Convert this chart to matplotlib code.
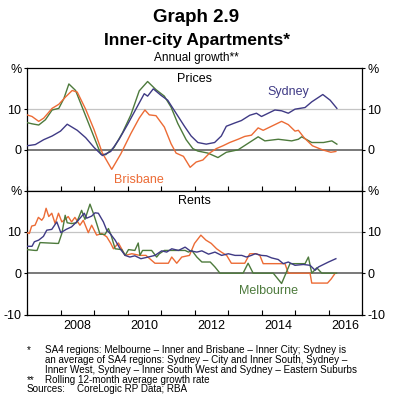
import matplotlib.pyplot as plt

plt.rcParams['font.family'] = ['Liberation Sans', 'DejaVu Sans']

# ---- data: annual growth, % ----
syd_price_t = [2007.0, 2007.25, 2007.5, 2007.75, 2008.0, 2008.2, 2008.5, 2008.75, 2009.0, 2009.25,
               2009.5, 2009.75, 2010.0, 2010.25, 2010.5, 2010.6, 2010.77, 2011.0, 2011.2, 2011.45,
               2011.7, 2011.9, 2012.1, 2012.35, 2012.6, 2012.8, 2012.95, 2013.2, 2013.4, 2013.65,
               2013.85, 2014.0, 2014.2, 2014.4, 2014.6, 2014.8, 2015.0, 2015.3, 2015.5, 2015.83,
               2016.05, 2016.25]
syd_price = [1.0, 1.3, 2.5, 3.4, 4.6, 6.3, 4.8, 3.0, 0.6, -1.4,
             -0.4, 2.6, 6.2, 10.0, 13.8, 13.2, 15.0, 13.4, 12.2, 9.0,
             5.8, 3.4, 1.8, 1.4, 1.8, 3.4, 5.8, 6.6, 7.2, 8.5,
             9.0, 8.2, 9.0, 9.8, 9.6, 9.0, 10.0, 10.4, 11.8, 13.6,
             12.2, 10.2]

mel_price_t = [2007.0, 2007.15, 2007.35, 2007.55, 2007.75, 2007.95, 2008.1, 2008.25, 2008.45, 2008.7,
               2008.95, 2009.2, 2009.35, 2009.6, 2009.85, 2010.1, 2010.35, 2010.6, 2010.85, 2011.1,
               2011.3, 2011.5, 2011.75, 2011.95, 2012.1, 2012.4, 2012.7, 2012.95, 2013.3, 2013.6,
               2013.9, 2014.1, 2014.5, 2014.9, 2015.1, 2015.2, 2015.5, 2015.85, 2016.1, 2016.25]
mel_price = [6.7, 6.4, 6.1, 7.4, 9.8, 10.2, 12.6, 16.2, 14.6, 9.4,
             4.2, -1.0, -1.2, 0.6, 4.2, 8.6, 14.5, 16.8, 14.8, 13.2,
             10.5, 6.5, 2.5, 0.3, -0.3, -0.8, -1.9, -0.6, 0.0, 1.6,
             3.2, 2.2, 2.6, 2.2, 2.6, 3.2, 1.8, 1.8, 2.2, 1.4]

bne_price_t = [2007.0, 2007.15, 2007.35, 2007.5, 2007.75, 2007.95, 2008.15, 2008.35, 2008.5, 2008.75,
               2009.0, 2009.25, 2009.53, 2009.8, 2010.1, 2010.35, 2010.52, 2010.65, 2010.85, 2011.1,
               2011.3, 2011.45, 2011.67, 2011.87, 2012.05, 2012.25, 2012.45, 2012.65, 2012.85, 2013.05,
               2013.3, 2013.5, 2013.7, 2013.9, 2014.05, 2014.3, 2014.6, 2014.8, 2015.0, 2015.1,
               2015.27, 2015.52, 2015.82, 2016.07, 2016.22]
bne_price = [8.6, 8.2, 7.0, 7.8, 10.2, 11.2, 13.0, 14.6, 14.2, 10.0,
             5.0, -0.8, -4.8, -1.0, 4.0, 7.8, 9.8, 8.6, 8.4, 5.6,
             1.5, -0.8, -1.6, -4.3, -3.0, -2.5, -0.8, 0.3, 1.0, 1.8,
             2.6, 3.3, 3.6, 5.4, 4.8, 5.8, 7.0, 6.2, 4.6, 4.8,
             3.0, 1.0, 0.0, -0.6, -0.4]

syd_rent_t = [2007.0, 2007.15, 2007.22, 2007.35, 2007.49, 2007.59, 2007.74, 2007.89, 2008.01, 2008.17,
              2008.33, 2008.53, 2008.71, 2008.78, 2008.93, 2009.03, 2009.13, 2009.28, 2009.38, 2009.48,
              2009.63, 2009.78, 2009.93, 2010.07, 2010.22, 2010.4, 2010.62, 2010.82, 2011.02, 2011.17,
              2011.32, 2011.52, 2011.72, 2011.87, 2012.07, 2012.22, 2012.42, 2012.61, 2012.81, 2013.01,
              2013.21, 2013.41, 2013.55, 2013.7, 2013.81, 2014.0, 2014.15, 2014.3, 2014.5, 2014.65,
              2014.8, 2015.0, 2015.25, 2015.45, 2015.6, 2015.7, 2015.85, 2016.0, 2016.22]
syd_rent = [6.5, 6.5, 7.6, 8.0, 8.9, 10.4, 10.6, 12.4, 9.8, 10.6,
            11.2, 12.8, 14.5, 13.3, 13.8, 14.6, 14.5, 12.4, 10.4, 9.6,
            8.0, 5.9, 4.3, 3.9, 4.2, 3.5, 3.9, 4.3, 5.4, 5.1,
            5.9, 5.5, 6.3, 5.4, 5.1, 5.4, 4.6, 5.1, 4.3, 4.7,
            4.3, 4.3, 3.9, 4.3, 4.7, 4.3, 4.2, 3.7, 3.3, 2.3,
            2.7, 1.9, 2.1, 1.9, 0.7, 1.5, 2.1, 2.7, 3.5]

mel_rent_t = [2007.0, 2007.24, 2007.3, 2007.39, 2007.88, 2007.94, 2008.04, 2008.14, 2008.2, 2008.33,
              2008.48, 2008.63, 2008.73, 2008.88, 2008.98, 2009.08, 2009.18, 2009.33, 2009.43, 2009.51,
              2009.63, 2009.83, 2009.93, 2010.03, 2010.22, 2010.32, 2010.37, 2010.45, 2010.72, 2010.87,
              2010.95, 2011.1, 2011.72, 2011.82, 2011.92, 2012.07, 2012.22, 2012.47, 2012.61, 2012.76,
              2013.45, 2013.6, 2013.75, 2014.35, 2014.6, 2014.85, 2015.3, 2015.4, 2015.5, 2015.65,
              2015.8, 2016.24]
mel_rent = [5.7, 5.5, 5.5, 7.4, 7.2, 7.2, 9.6, 14.0, 12.2, 12.0,
            12.2, 15.2, 13.0, 16.7, 14.5, 12.0, 9.4, 9.4, 10.8, 9.2,
            5.9, 5.7, 4.3, 5.7, 5.5, 7.3, 4.3, 5.5, 5.5, 3.9,
            4.7, 5.5, 5.5, 5.1, 5.5, 3.9, 2.7, 2.7, 1.5, 0.0,
            0.0, 2.4, 0.0, 0.0, -2.5, 2.3, 2.3, 3.9, 0.0, 1.3,
            0.0, 0.0]

bne_rent_t = [2007.0, 2007.07, 2007.14, 2007.24, 2007.34, 2007.44, 2007.5, 2007.57, 2007.65, 2007.74,
              2007.84, 2007.94, 2008.04, 2008.14, 2008.23, 2008.33, 2008.43, 2008.58, 2008.68, 2008.83,
              2008.93, 2009.08, 2009.23, 2009.38, 2009.5, 2009.58, 2009.73, 2009.93, 2010.13, 2010.37,
              2010.55, 2010.82, 2011.22, 2011.32, 2011.47, 2011.62, 2011.85, 2012.0, 2012.19, 2012.34,
              2012.5, 2012.66, 2012.8, 2012.96, 2013.1, 2013.5, 2013.65, 2013.85, 2013.95, 2014.05,
              2014.7, 2014.8, 2015.45, 2015.5, 2015.97, 2016.08, 2016.2]
bne_rent = [9.8, 9.6, 11.4, 11.6, 13.5, 12.8, 13.5, 15.7, 13.7, 14.5,
            12.0, 14.5, 12.4, 13.0, 13.7, 12.4, 13.5, 11.6, 12.8, 9.8,
            11.6, 9.2, 9.6, 8.8, 7.2, 5.9, 7.3, 4.3, 4.7, 4.3,
            4.3, 2.4, 2.4, 3.9, 2.4, 3.9, 4.3, 7.2, 9.2, 8.0,
            7.2, 5.9, 5.1, 4.3, 2.4, 2.4, 4.7, 4.7, 4.3, 2.3,
            2.3, 0.0, 0.0, -2.4, -2.4, -1.4, 0.0]

year_labels = ['2008', '2010', '2012', '2014', '2016']

C_SYD = '#3f3a85'
C_MEL = '#4d7a3c'
C_BNE = '#ec6b35'

W, H = 393, 416
fig = plt.figure(figsize=(W / 100, H / 100), dpi=100)

left, right = 27, 362
top_ax = fig.add_axes([left / W, 1 - 190.5 / H, (right - left) / W, 122 / H])
bot_ax = fig.add_axes([left / W, 1 - 314.5 / H, (right - left) / W, 124 / H])


def style_panel(ax, yticks, ylabels, title):
    ax.set_xlim(2007, 2017)
    ax.set_ylim(-10, 20)
    ax.axhline(10, color='#c4c4c4', lw=0.9, zorder=0)
    ax.axhline(0, color='#6e6e6e', lw=1.3, zorder=1)
    for s in ax.spines.values():
        s.set_color('black')
        s.set_linewidth(0.9)
    ax.set_yticks(yticks)
    ax.set_yticklabels(ylabels)
    ax.tick_params(axis='y', length=2, width=0.8, direction='out', labelsize=9,
                   left=True, right=True, labelleft=True, labelright=True, pad=2)
    ax.set_xticks(range(2007, 2018))
    ax.tick_params(axis='x', which='major', direction='in', length=3.5, width=0.8,
                   labelbottom=False, top=False)
    ax.text(0.5, 0.965, title, transform=ax.transAxes, ha='center', va='top', fontsize=9)


style_panel(top_ax, [20, 10, 0], ['%', '10', '0'], 'Prices')
style_panel(bot_ax, [20, 10, 0, -10], ['%', '10', '0', '-10'], 'Rents')

bot_ax.set_xticks([2008.5, 2010.5, 2012.5, 2014.5, 2016.5], minor=True)
bot_ax.set_xticklabels(year_labels, minor=True)
bot_ax.tick_params(axis='x', which='minor', length=0, labelsize=9, pad=4)

lw = 1.0
top_ax.plot(mel_price_t, mel_price, color=C_MEL, lw=lw, zorder=3)
top_ax.plot(bne_price_t, bne_price, color=C_BNE, lw=lw, zorder=3)
top_ax.plot(syd_price_t, syd_price, color=C_SYD, lw=lw, zorder=4)

bot_ax.plot(bne_rent_t, bne_rent, color=C_BNE, lw=lw, zorder=3)
bot_ax.plot(mel_rent_t, mel_rent, color=C_MEL, lw=lw, zorder=3)
bot_ax.plot(syd_rent_t, syd_rent, color=C_SYD, lw=lw, zorder=4)

top_ax.text(2014.8, 14.3, 'Sydney', color=C_SYD, fontsize=9, ha='center', va='center')
top_ax.text(2010.35, -7.4, 'Brisbane', color=C_BNE, fontsize=9, ha='center', va='center')
bot_ax.text(2014.2, -4.4, 'Melbourne', color=C_MEL, fontsize=9, ha='center', va='center')

# titles
fig.text(0.5, 1 - 17 / H, 'Graph 2.9', ha='center', va='center', fontsize=13.5, fontweight='bold')
fig.text(0.5, 1 - 41 / H, 'Inner-city Apartments*', ha='center', va='center', fontsize=12.5,
         fontweight='bold')
fig.text(0.5, 1 - 58 / H, 'Annual growth**', ha='center', va='center', fontsize=8.5)

# footnotes
fs = 7.1
fig.text(27 / W, 1 - 350 / H, '*', ha='left', va='center', fontsize=fs)
fig.text(45 / W, 1 - 350 / H, 'SA4 regions: Melbourne \u2013 Inner and Brisbane \u2013 Inner City; Sydney is',
         ha='left', va='center', fontsize=fs)
fig.text(45 / W, 1 - 360 / H, 'an average of SA4 regions: Sydney \u2013 City and Inner South, Sydney \u2013',
         ha='left', va='center', fontsize=fs)
fig.text(45 / W, 1 - 370 / H, 'Inner West, Sydney \u2013 Inner South West and Sydney \u2013 Eastern Suburbs',
         ha='left', va='center', fontsize=fs)
fig.text(27 / W, 1 - 380 / H, '**', ha='left', va='center', fontsize=fs)
fig.text(45 / W, 1 - 380 / H, 'Rolling 12-month average growth rate', ha='left', va='center', fontsize=fs)
fig.text(27 / W, 1 - 389 / H, 'Sources:', ha='left', va='center', fontsize=fs)
fig.text(77 / W, 1 - 389 / H, 'CoreLogic RP Data; RBA', ha='left', va='center', fontsize=fs)

fig.savefig('out.png', dpi=100)
